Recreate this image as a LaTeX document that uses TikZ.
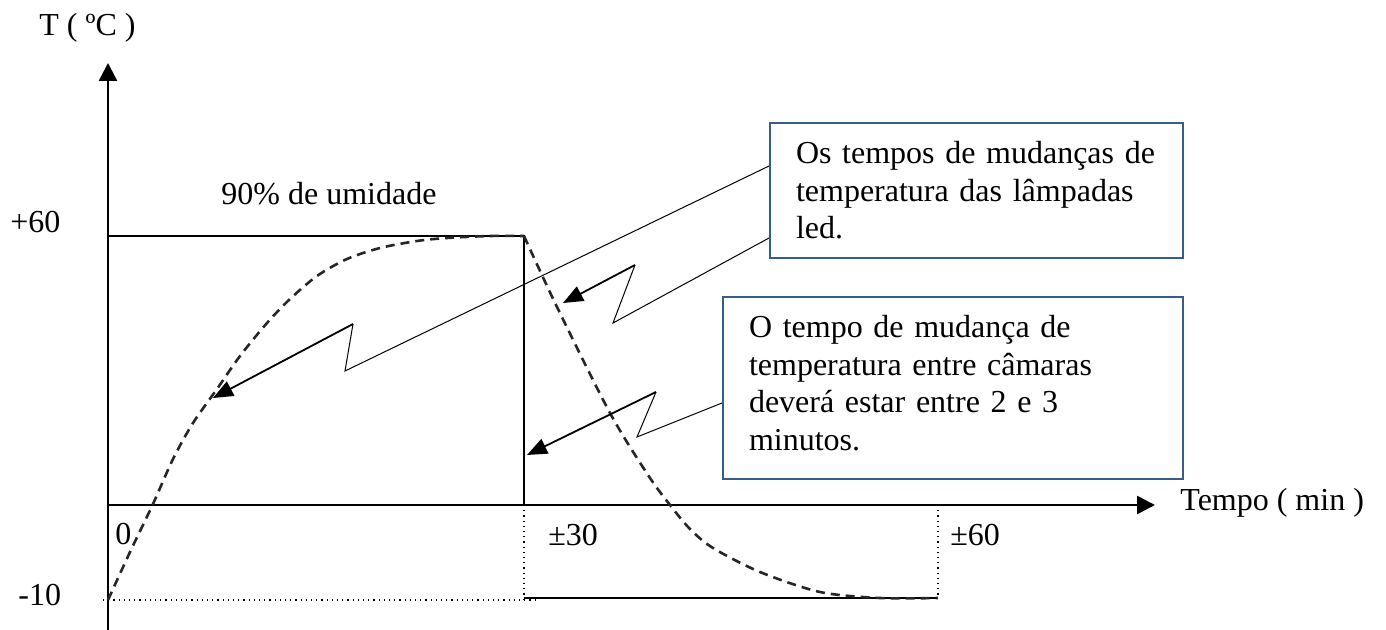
\documentclass[tikz,border=0pt]{standalone}
\usepackage{fontspec}
\setmainfont{Liberation Serif}
\usepackage{xcolor}
\definecolor{colorBox}{RGB}{56,93,138}
\colorlet{colorCurve}{black!85}
\usetikzlibrary{arrows.meta, positioning}
\tikzset{
  axisline/.style={line width=1.3pt, -{Triangle[length=9pt,width=9pt]}},
  rim/.style={line width=0.9pt},
  guide/.style={line width=0.6pt, dotted},
  curve/.style={line width=1.3pt, colorCurve, dash pattern=on 4.5pt off 3pt},
  textbox/.style={draw=colorBox, line width=1pt, anchor=north west, align=left, inner xsep=13pt, inner ysep=0pt, text height=20.5pt, font=\fontsize{16}{18.75}\selectfont},
  lead/.style={line width=0.5pt},
  pointer/.style={line width=0.9pt, -{Triangle[length=10pt,width=8pt]}},
  axistext/.style={anchor=base west, inner sep=0pt, font=\fontsize{16}{18.75}\selectfont}
}

\begin{document}
\begin{tikzpicture}[x=0.5pt, y=-0.5pt]
\useasboundingbox (0,0) rectangle (1386,630);
\coordinate (o) at (108,505);
\coordinate (ybot) at (108,630);
\coordinate (ytip) at (108,63);
\coordinate (xtip) at (1155,505);
\draw[axisline] (ybot) -- (ytip);
\draw[axisline] (o) -- (xtip);
\node[axistext] (unitT) at (39,36) {T ( ºC )};
\node[axistext, base right=12.5pt of xtip, yshift=-2.5pt] (unitTime) {Tempo ( min )};
\node[axistext] (humid) at (221,205) {90\% de umidade};
\node[axistext] (tickHi) at (10,233) {+60};
\node[axistext] (tickLo) at (18,605) {-10};
\node[axistext] (tick0) at (115,544) {0};
\node[axistext] (tick30) at (548,545) {±30};
\node[axistext] (tick60) at (950,545) {±60};
\draw[rim] (108,236) -- (524,236) -- (524,505);
\draw[rim] (524,598) -- (938,598);
\draw[guide] (103,600) -- (535,600);
\draw[guide] (524,505) -- (524,600);
\draw[guide] (938,505) -- (938,598);
\draw[curve] plot[smooth] coordinates {(108,600) (130,552) (153,504) (173,459) (193,423) (217,389) (240,356) (267,323) (290,299) (317,276) (347,259) (380,248) (417,241) (447,238) (490,236) (524,236)};
\draw[curve] plot[smooth] coordinates {(524,236) (557,307) (610,413) (648,475) (670,505) (690,529) (713,548) (760,572) (820,592) (880,598) (938,598)};
\node[textbox, text width=180.5pt, text depth=47pt] (noteLed) at (769,122) {Os tempos de mudanças de\\temperatura das lâmpadas\\led.};
\node[textbox, text width=204pt, text depth=70.5pt] (noteCam) at (722,296) {O tempo de mudança de\\temperatura entre câmaras\\deverá estar entre 2 e 3\\minutos.};
\coordinate (kinkA1) at (345,371);
\coordinate (kinkA2) at (353,324);
\coordinate (tipA) at (213,398);
\coordinate (kinkB1) at (613,323);
\coordinate (kinkB2) at (635,265);
\coordinate (tipB) at (563,303);
\coordinate (kinkC1) at (637,437);
\coordinate (kinkC2) at (656,392);
\coordinate (tipC) at (527,455);
\draw[lead] ([yshift=12.25pt]noteLed.west) -- (kinkA1) -- (kinkA2);
\draw[pointer] (kinkA2) -- (tipA);
\draw[lead] ([yshift=-23.75pt]noteLed.west) -- (kinkB1) -- (kinkB2);
\draw[pointer] (kinkB2) -- (tipB);
\draw[lead] ([yshift=-7.5pt]noteCam.west) -- (kinkC1) -- (kinkC2);
\draw[pointer] (kinkC2) -- (tipC);
\end{tikzpicture}
\end{document}
